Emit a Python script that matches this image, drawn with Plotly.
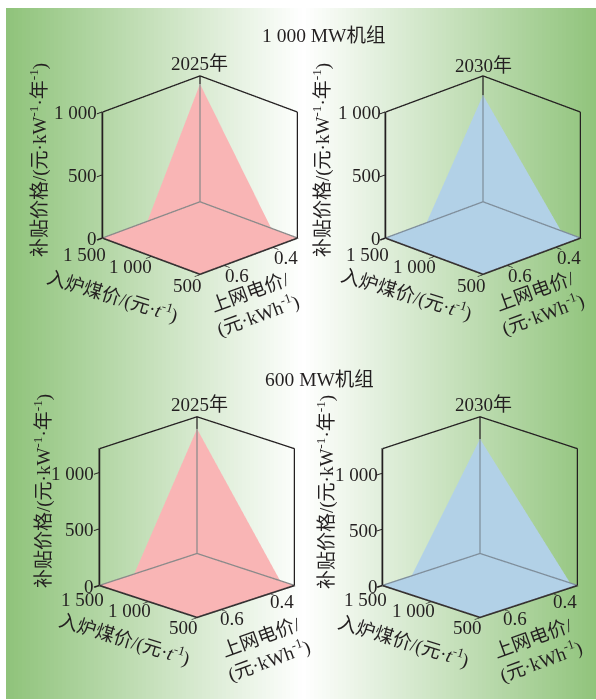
import math
import plotly.graph_objects as go

W, H = 596, 700

group_titles = ["1 000 MW机组", "600 MW机组"]
panel_years = ["2025年", "2030年", "2025年", "2030年"]
coal_range = [500, 1500]
elec_range = [0.3, 0.7]
coal_ticks = [500, 1000, 1500]
coal_labels = ["500", "1 000", "1 500"]
elec_ticks = [0.4, 0.6]
elec_labels = ["0.4", "0.6"]
z_ticks = [0, 500, 1000]
z_labels = ["0", "500", "1 000"]

z_tops = [1000, 1000, 1213, 1221]
peak_subsidy = [936, 847, 1106, 1023]
zero_elec_at_max_coal = [0.516, 0.532, 0.558, 0.581]
zero_coal_at_min_elec = [770, 700, 647, 575]
surface_colors = ["#f9b5b5", "#b2d1e7", "#f9b5b5", "#b2d1e7"]

# layout (pixels)
centers = [(199.5, 174.5), (483, 174.7), (196.5, 516.7), (480, 516.7)]
elevations = [21.8, 21.8, 19.1, 19.1]
z_aspects = [0.984, 0.984, 1.05, 1.05]
year_pos = [(199, 64), (483, 65), (199, 404), (483, 404)]
z_title_pos = [(39, 160), (322, 160), (42, 491), (325, 492)]
coal_title_pos = [(113, 295), (407, 293), (125, 638), (404, 640)]
elec_title_pos = [(254, 304), (539, 303), (265, 649), (537, 650)]
group_title_pos = [(323.5, 35), (319, 379)]
coal_shifts_top = [(-12, -12), (-20, -11), (-18, -17)]
coal_shifts_bot = [(-13, -11), (-18, -10), (-17, -14)]
elec_shifts_top = [(13, -11), (13, -11)]
elec_shifts_bot = [(12, -8), (11, -10)]

SERIF = "Liberation Serif, Noto Sans CJK SC, serif"
TXT = "#231f20"
FS = 19
VIEW = 224     # scene square, px
EYE_DIST = 1.6
SCALE = 1.24


def hx(c):
    return "#%02x%02x%02x" % tuple(int(round(v)) for v in c)


def padded(rng):
    p = (rng[1] - rng[0]) * 0.004
    return [rng[0] - p, rng[1] + p]


fig = go.Figure()

# gradient backdrop
shapes = []
x0, x1 = 6, W
step = 4
GREEN = (143, 195, 122)
MID = 303
x = x0
while x < x1:
    t = min(1, abs(x + step / 2 - MID) / 297)
    col = tuple(255 + (g - 255) * t for g in GREEN)
    shapes.append(dict(type="rect", xref="paper", yref="paper", layer="below",
                       x0=x / W, x1=min(x + step + 0.5, W) / W, y0=1 - 699 / H, y1=1 - 8 / H,
                       fillcolor=hx(col), line=dict(width=0)))
    x += step

annos = []


def paper_text(text, px, py, angle=0, size=FS):
    annos.append(dict(text=text, x=px / W, y=1 - py / H, xref="paper", yref="paper",
                      showarrow=False, textangle=angle, xanchor="center", yanchor="middle",
                      font=dict(family=SERIF, size=size, color=TXT)))


for t, (px, py) in zip(group_titles, group_title_pos):
    paper_text(t, px, py, size=19.5)

for n in range(4):
    sid = "scene" if n == 0 else f"scene{n+1}"
    oid = f"scene{n+5}"   # overlay scene for the box frame
    ztop = z_tops[n]
    cx, cy = centers[n]
    c0, c1 = coal_range
    e0, e1 = elec_range
    col = surface_colors[n]
    peak = peak_subsidy[n]

    fig.add_trace(go.Mesh3d(x=[c0, c1, c1, c0], y=[e0, e0, e1, e1], z=[0, 0, 0, 0],
                            i=[0, 0], j=[1, 2], k=[2, 3], color=col, flatshading=True,
                            lighting=dict(ambient=1, diffuse=0, specular=0, fresnel=0),
                            hoverinfo="skip", scene=sid, showlegend=False))
    fig.add_trace(go.Mesh3d(x=[c1, c1, zero_coal_at_min_elec[n]],
                            y=[e0, zero_elec_at_max_coal[n], e0],
                            z=[peak, 0, 0],
                            i=[0], j=[1], k=[2], color=col, flatshading=True,
                            lighting=dict(ambient=1, diffuse=0, specular=0, fresnel=0),
                            hoverinfo="skip", scene=sid, showlegend=False))

    def seg(xs, ys, zs, color, width):
        fig.add_trace(go.Scatter3d(x=xs, y=ys, z=zs, mode="lines",
                                   line=dict(color=color, width=width), hoverinfo="skip",
                                   scene=oid, showlegend=False))

    BLK = "#231f20"
    GR = "#8a8a8a" if n in (0, 2) else "#7f8e9b"
    seg([c1, c1, c0], [e1, e0, e0], [ztop, ztop, ztop], BLK, 2.6)
    seg([c1, c1], [e1, e1], [0, ztop], BLK, 2.6)
    seg([c0, c0], [e0, e0], [0, ztop], BLK, 2.6)
    seg([c1, c1], [e0, e0], [peak, ztop], BLK, 2.6)
    seg([c1, c1], [e0, e0], [0, peak], GR, 2.6)
    seg([c1, c1, c0], [e1, e0, e0], [0, 0, 0], GR, 2.6)
    seg([c1, c0, c0], [e1, e1, e0], [0, 0, 0], "#3a3436", 2.6)

    annots = []
    coal_shift = coal_shifts_top if n < 2 else coal_shifts_bot
    elec_shift = elec_shifts_top if n < 2 else elec_shifts_bot
    for v, lab, (dx, dy) in zip(coal_ticks, coal_labels, coal_shift):
        annots.append(dict(x=v, y=e1, z=0, text=lab, showarrow=False, xshift=dx, yshift=dy,
                           font=dict(family=SERIF, size=FS, color=TXT)))
    for v, lab, (dx, dy) in zip(elec_ticks, elec_labels, elec_shift):
        annots.append(dict(x=c0, y=v, z=0, text=lab, showarrow=False, xshift=dx, yshift=dy,
                           font=dict(family=SERIF, size=FS, color=TXT)))
    for v, lab in zip(z_ticks, z_labels):
        annots.append(dict(x=c1, y=e1, z=v, text=lab, showarrow=False, xanchor="right", xshift=-3,
                           yshift=-1, font=dict(family=SERIF, size=FS, color=TXT)))

    el = math.radians(elevations[n])
    r = EYE_DIST * math.cos(el) / math.sqrt(2)
    def axis(rng, vals, ticks):
        return dict(range=padded(rng), tickvals=vals, showticklabels=False, title=dict(text=""),
                    showgrid=False, showbackground=False, showspikes=False, zeroline=False,
                    showline=bool(ticks), linecolor=BLK, linewidth=1, ticks=ticks, ticklen=7,
                    tickwidth=2, tickcolor=BLK)
    def scene(ticks, ann):
        return dict(
            domain=dict(x=[(cx - VIEW / 2) / W, (cx + VIEW / 2) / W],
                        y=[1 - (cy + VIEW / 2) / H, 1 - (cy - VIEW / 2) / H]),
            aspectmode="manual", aspectratio=dict(x=SCALE, y=SCALE, z=z_aspects[n] * SCALE),
            camera=dict(projection=dict(type="orthographic"),
                        eye=dict(x=-r, y=r, z=EYE_DIST * math.sin(el)),
                        center=dict(x=0, y=0, z=0), up=dict(x=0, y=0, z=1)),
            bgcolor="rgba(0,0,0,0)",
            annotations=ann,
            xaxis=axis(coal_range, coal_ticks, ticks),
            yaxis=axis(elec_range, elec_ticks, ticks),
            zaxis=axis([0, ztop], z_ticks, ticks),
        )
    fig.update_layout(**{sid: scene("", []), oid: scene("inside", annots)})

    paper_text(panel_years[n], *year_pos[n])
    paper_text("补贴价格/(元·kW<sup>-1</sup>·年<sup>-1</sup>)", *z_title_pos[n], angle=-90)
    paper_text("入炉煤价/(元·<i>t</i><sup>-1</sup>)", *coal_title_pos[n], angle=17)
    paper_text("上网电价/<br>(元·kWh<sup>-1</sup>)", *elec_title_pos[n], angle=-20)

fig.update_layout(width=W, height=H, margin=dict(l=0, r=0, t=0, b=0),
                  paper_bgcolor="white", plot_bgcolor="white", shapes=shapes,
                  annotations=annos, showlegend=False)
fig.write_html("out.html", config=dict(displayModeBar=False),
               post_script="document.body.style.margin='0';")
